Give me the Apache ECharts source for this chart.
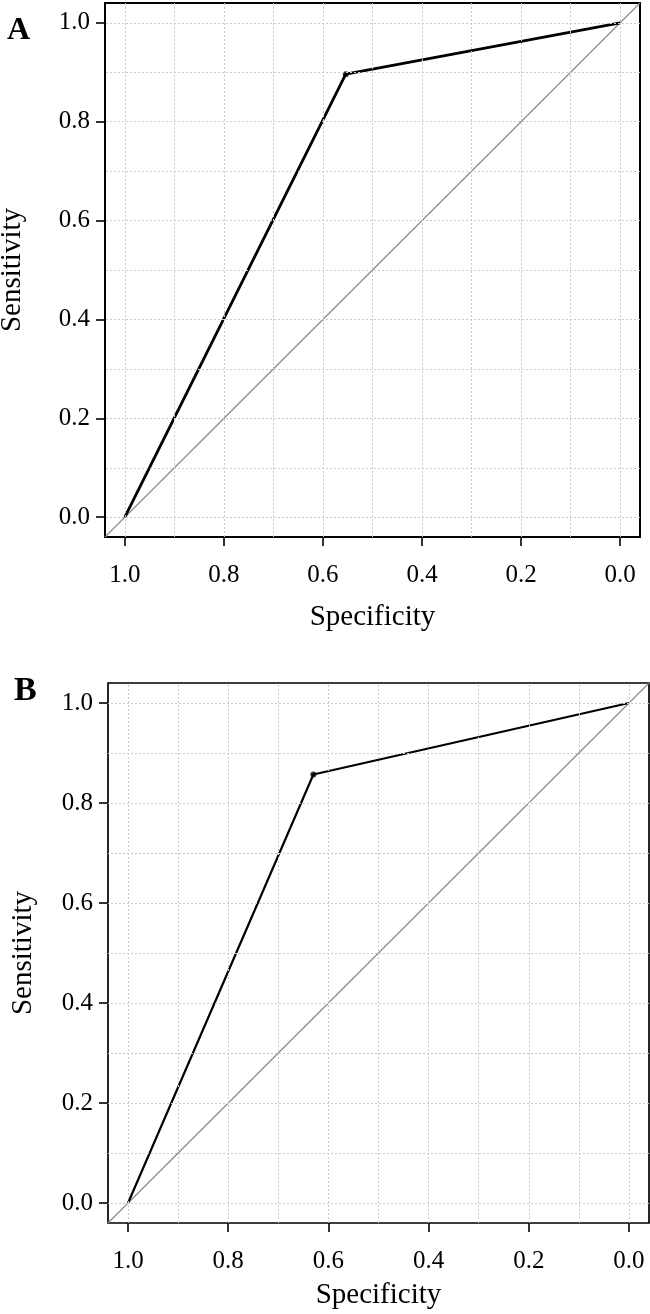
<!DOCTYPE html>
<html>
<head>
<meta charset="utf-8">
<script src="https://cdn.jsdelivr.net/npm/echarts@6/dist/echarts.min.js"></script>
<style>
  html, body { margin: 0; padding: 0; background: #fff; }
  #roc { width: 650px; height: 1314px; }
</style>
</head>
<body>
<div id="roc"></div>
<script>
// ROC curves, panel A and panel B
var specA = [1.0, 0.554, 0.0];
var sensA = [0.0, 0.896, 1.0];
var specB = [1.0, 0.630, 0.0];
var sensB = [0.0, 0.857, 1.0];
var cutA = [0.554, 0.896];
var cutB = [0.630, 0.857];
var tickValues = [0.0, 0.2, 0.4, 0.6, 0.8, 1.0];
var gridValues = [0.0, 0.1, 0.2, 0.3, 0.4, 0.5, 0.6, 0.7, 0.8, 0.9, 1.0];
var axisMin = -0.04, axisMax = 1.04;
var chanceLine = [[axisMax, axisMin], [axisMin, axisMax]];

var serif = 'Liberation Serif';

function pairs(xs, ys) {
    return xs.map(function (x, i) { return [x, ys[i]]; });
}

function xAx(idx, gap) {
    return {
        type: 'value', gridIndex: idx, inverse: true,
        min: axisMin, max: axisMax,
        name: 'Specificity', nameLocation: 'middle', nameGap: gap,
        nameTextStyle: { fontFamily: serif, fontSize: 29, color: '#000' },
        axisLine: { show: false, onZero: false },
        axisTick: { show: true, length: 9, inside: false, customValues: tickValues,
                    lineStyle: { color: '#000', width: 1.6 } },
        axisLabel: { customValues: tickValues, margin: 26, fontFamily: serif, fontSize: 25, color: '#000',
                     formatter: function (v) { return v.toFixed(1); } },
        splitLine: { show: false }
    };
}

function yAx(idx, gap) {
    return {
        type: 'value', gridIndex: idx,
        min: axisMin, max: axisMax,
        name: 'Sensitivity', nameLocation: 'middle', nameGap: gap, nameRotate: 90,
        nameTextStyle: { fontFamily: serif, fontSize: 29, color: '#000' },
        axisLine: { show: false, onZero: false },
        axisTick: { show: true, length: 9, inside: false, customValues: tickValues,
                    lineStyle: { color: '#000', width: 1.6 } },
        axisLabel: { customValues: tickValues, margin: 15, fontFamily: serif, fontSize: 25, color: '#000',
                     formatter: function (v) { return v.toFixed(1); } },
        splitLine: { show: false }
    };
}

function gridSeries(idx) {
    var lines = gridValues.map(function (v) { return { xAxis: v }; })
        .concat(gridValues.map(function (v) { return { yAxis: v }; }));
    return {
        type: 'line', xAxisIndex: idx, yAxisIndex: idx, data: [], z: 1,
        markLine: {
            silent: true, symbol: 'none', animation: false,
            label: { show: false },
            lineStyle: { color: '#c9c9c9', width: 1, type: [2, 2] },
            data: lines
        }
    };
}

function diagSeries(idx) {
    return {
        type: 'line', xAxisIndex: idx, yAxisIndex: idx, z: 2,
        data: chanceLine, symbol: 'none',
        lineStyle: { color: '#8a8a8a', width: 1.2 }
    };
}

function rocSeries(idx, xs, ys, w) {
    return {
        type: 'line', xAxisIndex: idx, yAxisIndex: idx, z: 3,
        data: pairs(xs, ys), symbol: 'none',
        lineStyle: { color: '#000', width: w }
    };
}

function cutSeries(idx, pt) {
    return {
        type: 'scatter', xAxisIndex: idx, yAxisIndex: idx, z: 4,
        data: [pt], symbol: 'circle', symbolSize: 6,
        itemStyle: { color: '#000' }
    };
}

var myChart = echarts.init(document.getElementById('roc'));
var option = {
    animation: false,
    backgroundColor: '#fff',
    graphic: [
        { type: 'text', left: 7, top: 15,
          style: { text: 'A', fontFamily: serif, fontWeight: 'bold', fontSize: 32, fill: '#000' } },
        { type: 'text', left: 14, top: 674,
          style: { text: 'B', fontFamily: serif, fontWeight: 'bold', fontSize: 34, fill: '#000' } }
    ],
    grid: [
        { left: 105, top: 3, width: 535, height: 534, show: true, outerBoundsMode: 'none',
          borderColor: '#000', borderWidth: 2, backgroundColor: 'transparent' },
        { left: 108, top: 683, width: 541, height: 540, show: true, outerBoundsMode: 'none',
          borderColor: '#000', borderWidth: 1.7, backgroundColor: 'transparent' }
    ],
    xAxis: [xAx(0, 66), xAx(1, 58)],
    yAxis: [yAx(0, 78), yAx(1, 70)],
    series: [
        gridSeries(0), diagSeries(0), rocSeries(0, specA, sensA, 2.8), cutSeries(0, cutA),
        gridSeries(1), diagSeries(1), rocSeries(1, specB, sensB, 2.2), cutSeries(1, cutB)
    ]
};
myChart.setOption(option);
window.addEventListener('resize', function () { myChart.resize(); });
</script>
</body>
</html>
